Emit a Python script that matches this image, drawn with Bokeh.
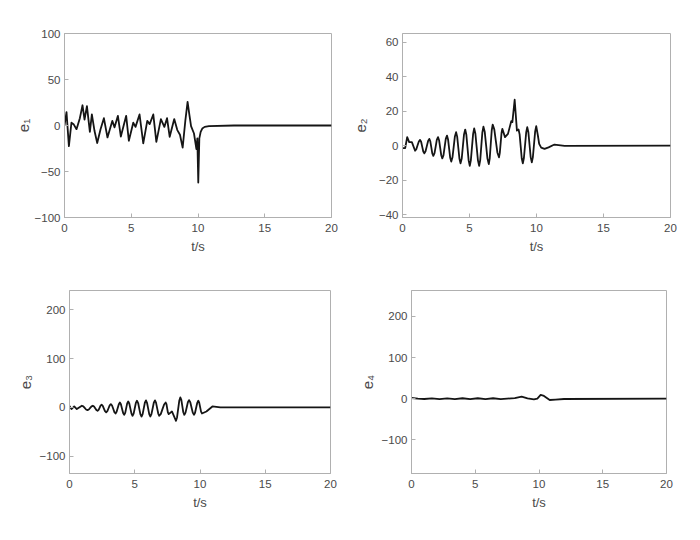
from bokeh.plotting import figure
from bokeh.layouts import column, row
from bokeh.models import Range1d, FixedTicker
from bokeh.embed import file_html
from bokeh.resources import INLINE

# ---- data ----
t1 = [0, 0.15, 0.33, 0.52, 0.7, 0.9, 1.15, 1.35, 1.5, 1.68, 1.9, 2.05, 2.25, 2.45, 2.7, 2.95, 3.22, 3.58, 3.75,
      4.0, 4.22, 4.62, 4.82, 5.15, 5.32, 5.62, 5.9, 6.2, 6.38, 6.65, 6.88, 7.22, 7.48, 7.68, 7.88,
      8.22, 8.45, 8.65, 8.85, 9.05, 9.22, 9.35, 9.48, 9.7, 9.88, 9.95, 10.02, 10.1, 10.2, 10.32, 10.5, 10.82, 12.7, 20]
e1 = [0, 14.5, -22.5, 3, 1, -4, 8, 22, 6.5, 21, -7, 12, -6, -19, -4, 8, -13, 5, -2,
      10.5, -12, 10.5, -16.6, 3, -1.5, 12, -19.5, 5, 1.5, 12, -17.8, 7, -1.5, 8, -12.3,
      7, -5, -10, -24, 5, 25.7, 12, -0.7, -8.7, -25.7, -14, -62, -14, -7, -3.3, -1.5, -0.7, 0, 0]

t2 = [0, 0.2, 0.35, 0.5, 0.7, 0.94,
      1.03, 1.125, 1.22, 1.31, 1.39, 1.47, 1.55, 1.63, 1.72, 1.815, 1.91, 2.0,
      2.075, 2.15, 2.225, 2.3, 2.39, 2.475, 2.56, 2.65, 2.73, 2.81, 2.89, 2.97,
      3.06, 3.145, 3.23, 3.32, 3.4, 3.48, 3.56, 3.64, 3.73, 3.82, 3.91, 4.0,
      4.08, 4.165, 4.25, 4.33, 4.42, 4.505, 4.59, 4.68, 4.765, 4.85, 4.935, 5.02,
      5.1, 5.185, 5.27, 5.35, 5.44, 5.535, 5.63, 5.72, 5.8, 5.88, 5.96, 6.04,
      6.14, 6.24, 6.34, 6.44, 6.51, 6.585, 6.66, 6.73, 6.85, 6.965, 7.08, 7.2,
      7.26, 7.325, 7.39, 7.45, 7.65, 7.87, 8.12, 8.2, 8.37, 8.54, 8.66,
      8.74, 8.82, 8.9, 8.98, 9.06, 9.145, 9.23, 9.31, 9.395, 9.48, 9.565, 9.65,
      9.73, 9.815, 9.9, 9.98, 10.1, 10.2, 10.35, 10.6, 10.9, 11.34, 12.1, 20]
e2 = [-1.5, -1.5, 4.9, 2, 2, -3,
      -2.1, 0.15, 2.4, 3.3, 2.2, -0.6, -3.4, -4.5, -3.3, -0.3, 2.7, 3.9,
      2.5, -1.05, -4.6, -6, -4.4, -0.55, 3.3, 4.9, 3.1, -1.25, -5.6, -7.4,
      -5.5, -0.8, 3.9, 5.8, 3.6, -1.75, -7.1, -9.3, -6.8, -0.75, 5.3, 7.8,
      5.2, -1.25, -7.7, -10.3, -7.5, -0.5, 6.5, 9.3, 6.3, -1.2, -8.6, -11.7,
      -8.55, -0.85, 6.8, 10, 6.85, -0.85, -8.55, -11.7, -8.4, -0.35, 7.7, 11,
      7.85, 0.15, -7.55, -10.7, -7.4, 0.75, 8.9, 12.2, 9.4, 2.7, -4, -6.8,
      -4.4, 1.45, 7.3, 9.7, 4.9, 6.8, 14.2, 13.6, 26.6, 8.7, 9.3,
      6.5, -0.5, -7.5, -10.3, -7.2, 0.2, 7.6, 10.7, 7.7, 0.5, -6.7, -9.7,
      -6.6, 0.8, 8.2, 11.3, 6, 1, -1.2, -1.9, -1, 0.6, -0.2, 0]

t3 = [0, 0.15, 0.36, 0.56, 0.95, 1.06, 1.165, 1.27, 1.38, 1.48, 1.585, 1.69, 1.79,
      1.88, 1.97, 2.06, 2.15, 2.23, 2.305, 2.38, 2.46, 2.55, 2.635, 2.72, 2.81,
      2.9, 2.99, 3.08, 3.17, 3.26, 3.35, 3.44, 3.53, 3.61, 3.695, 3.78, 3.86,
      3.94, 4.025, 4.11, 4.19, 4.27, 4.345, 4.42, 4.5, 4.58, 4.665, 4.75, 4.83,
      4.915, 5.0, 5.085, 5.17, 5.26, 5.345, 5.43, 5.52, 5.605, 5.69, 5.775, 5.86,
      5.94, 6.025, 6.11, 6.19, 6.28, 6.37, 6.46, 6.55, 6.63, 6.715, 6.8, 6.88,
      7.0, 7.125, 7.25, 7.37, 7.43, 7.485, 7.54, 7.6, 7.85, 8.16,
      8.24, 8.325, 8.41, 8.49, 8.57, 8.645, 8.72, 8.8, 8.89, 8.98, 9.07, 9.16,
      9.255, 9.35, 9.445, 9.54, 9.62, 9.705, 9.79, 9.87, 9.94, 10.01, 10.08, 10.15,
      10.49, 10.95, 11.56, 20]
e3 = [3, -3.4, 2, -3.4, 3.4, 2.1, -1.05, -4.2, -5.5, -4.2, -1.05, 2.1, 3.4,
      1.9, -1.7, -5.3, -6.8, -5, -0.65, 3.7, 5.5, 3.2, -2.25, -7.7, -10,
      -7.6, -1.6, 4.4, 6.8, 4, -2.75, -9.5, -12.3, -9, -1.15, 6.75, 10,
      6.4, -2.5, -11.4, -15, -11, -1.35, 8.3, 12.3, 8.05, -2.35, -12.75, -17,
      -12.5, -1.65, 9.2, 13.7, 9, -2.4, -13.8, -18.5, -13.7, -2.05, 9.6, 14.4,
      9.6, -2.05, -13.7, -18.5, -13.7, -2.05, 9.6, 14.4, 9.8, -1.3, -12.4, -17,
      -13.1, -3.5, 6.1, 10, 6.6, -1.85, -10.3, -13.7, -8.2, -27.4,
      -20.5, -3.45, 13.5, 20.5, 15.3, 2.75, -9.8, -15, -10.6, 0, 10.6, 15,
      10.6, 0, -10.6, -15, -10.8, -0.65, 9.5, 13.7, 9.9, 0.7, -8.5, -12.3,
      -8.2, 2, 0, 0]

t4 = [0, 0.5, 1.0, 1.6, 2.2, 2.8, 3.4, 4.0, 4.6, 5.2, 5.8, 6.4, 7.0, 7.5, 8.1, 8.64, 9.1, 9.6,
      9.87, 10.13, 10.39, 10.84, 11.3, 11.96, 20]
e4 = [1.6, 0.2, -0.8, 0.6, -1, 0.8, -1.2, 1, -1.2, 1, -1.2, 1, -1, 0, 1.5, 4.9, 0.8, -1.6,
      0, 9, 6.5, -3.3, -2.4, -0.8, 0]

x_ticks = [0, 5, 10, 15, 20]
y_ticks = [[-100, -50, 0, 50, 100], [-40, -20, 0, 20, 40, 60], [-100, 0, 100, 200], [-100, 0, 100, 200]]
y_ranges = [(-100, 100), (-41.7, 65.0), (-135, 239), (-182, 263)]
y_labels = ["e\u2081", "e\u2082", "e\u2083", "e\u2084"]

GRAY_BOX = "#b0b0b0"
TXT = "#4a4a4a"
FONT = "Liberation Sans"

# geometry: (width, height, left, right, top, bottom, ylabel standoff)
geo = [(348, 262, 64, 17, 33, 45, 0),
       (343, 262, 53, 21, 33, 45, 7),
       (352, 270, 69, 22, 28, 59, 3),
       (340, 270, 59, 26, 28, 59, 3)]

series = [(t1, e1), (t2, e2), (t3, e3), (t4, e4)]
figs = []
for i in range(4):
    w, h, l, r, tp, b, lso = geo[i]
    p = figure(width=w, height=h, output_backend="svg", toolbar_location=None,
               x_range=Range1d(0, 20), y_range=Range1d(*y_ranges[i]),
               min_border_left=l, min_border_right=r, min_border_top=tp, min_border_bottom=b)
    p.background_fill_color = "white"
    p.border_fill_color = "white"
    p.outline_line_color = GRAY_BOX
    p.outline_line_width = 1
    p.xgrid.visible = False
    p.ygrid.visible = False
    t, e = series[i]
    p.line(t, e, line_color="#151515", line_width=1.8, line_join="round")

    for ax in (p.xaxis[0], p.yaxis[0]):
        ax.axis_line_color = GRAY_BOX
        ax.major_tick_line_color = GRAY_BOX
        ax.major_tick_in = 4
        ax.major_tick_out = 0
        ax.minor_tick_line_color = None
        ax.major_label_text_font = FONT
        ax.major_label_text_font_size = "11.5px"
        ax.major_label_text_color = TXT
        ax.axis_label_text_font = FONT
        ax.axis_label_text_font_style = "normal"
        ax.axis_label_text_color = TXT
    p.xaxis[0].ticker = FixedTicker(ticks=x_ticks)
    p.yaxis[0].ticker = FixedTicker(ticks=y_ticks[i])
    p.xaxis[0].axis_label = "t/s"
    p.xaxis[0].axis_label_text_font_size = "13px"
    p.xaxis[0].major_label_standoff = 6
    p.xaxis[0].axis_label_standoff = 4
    p.yaxis[0].axis_label = y_labels[i]
    p.yaxis[0].axis_label_text_font_size = "15px"
    p.yaxis[0].major_label_standoff = 4
    p.yaxis[0].axis_label_standoff = lso
    figs.append(p)

layout = column(row(figs[0], figs[1], spacing=0), row(figs[2], figs[3], spacing=0), spacing=0)
open("out.html", "w").write(file_html(layout, INLINE))
